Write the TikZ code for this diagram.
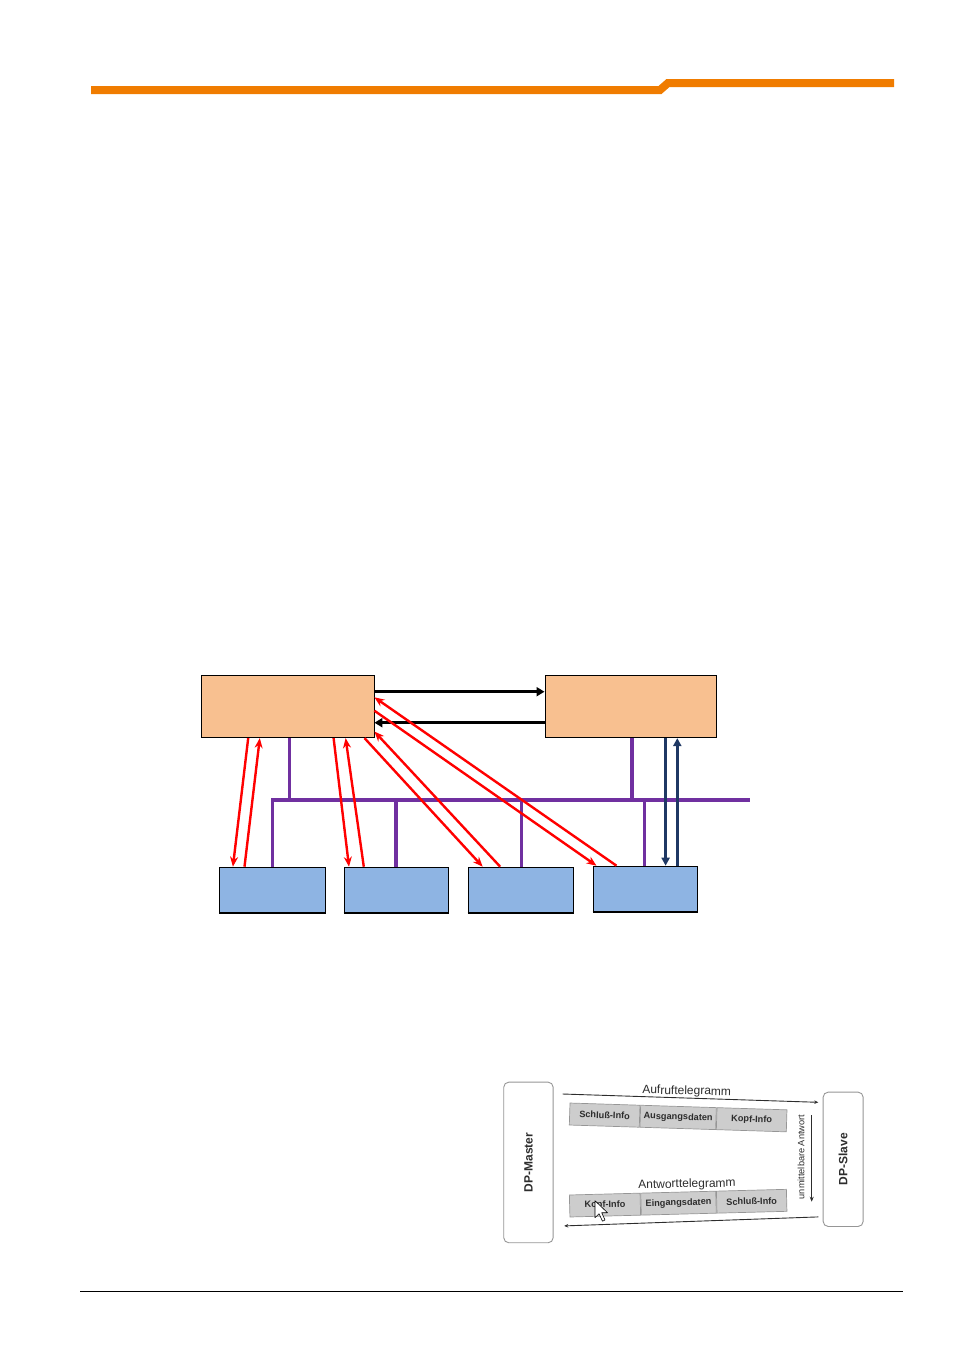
\documentclass[tikz,border=0pt]{standalone}
\usepackage{fontspec}
\setmainfont{Liberation Sans}
\usetikzlibrary{arrows.meta}
\definecolor{hdrorange}{RGB}{240,124,0}
\definecolor{peach}{RGB}{248,192,144}
\definecolor{slaveblue}{RGB}{142,180,227}
\definecolor{buspurple}{RGB}{112,48,160}
\definecolor{navyline}{RGB}{31,56,100}
\definecolor{cellgray}{RGB}{205,205,205}
\definecolor{cellborder}{RGB}{150,150,150}
\definecolor{txtgray}{RGB}{45,45,45}
\tikzset{
  masterbox/.style={draw=black, line width=0.8pt, fill=peach, inner sep=0pt, anchor=north west},
  slavebox/.style={draw=black, line width=1.1pt, fill=slaveblue, inner sep=0pt, anchor=north west, minimum height=45.6pt},
  redarr/.style={draw=red, line width=2.4pt, -{Stealth[length=10pt,width=8pt]}},
  blkarr/.style={draw=black, line width=3pt, -{Triangle[length=8pt,width=9pt]}},
  navyarr/.style={draw=navyline, line width=2.4pt, -{Triangle[length=8pt,width=8pt]}},
  bus/.style={draw=buspurple, line width=3.6pt},
  dpbox/.style={draw=cellborder, line width=0.9pt, rounded corners=5pt, fill=white, inner sep=0pt, anchor=north west},
  dptext/.style={font=\bfseries\fontsize{12}{14}\selectfont, text=txtgray, rotate=90},
  cell/.style={draw=cellborder, line width=0.7pt, fill=cellgray, inner sep=0pt, minimum height=22pt, anchor=west, font=\bfseries\fontsize{9.2}{11}\selectfont, text=txtgray},
  tlabel/.style={font=\fontsize{12}{14}\selectfont, text=txtgray, inner sep=0pt},
  thinarr/.style={draw=txtgray, line width=0.9pt, -{Stealth[length=4pt,width=3.5pt]}}
}
\begin{document}
\begin{tikzpicture}[x=1pt,y=-1pt]
\useasboundingbox (0,0) rectangle (955,1350);
% header
\draw[hdrorange, line width=8pt] (91,90) -- (660,90) -- (668,83) -- (894,83);
% footer
\draw[line width=1.2pt] (80,1291.5) -- (903,1291.5);

% top boxes
\node[masterbox, minimum width=172.6pt, minimum height=62.3pt] (m) at (201,675) {};
\node[masterbox, minimum width=171pt, minimum height=62.3pt] (s) at (544.5,675) {};
% bottom boxes
\node[slavebox, minimum width=105.5pt] (b1) at (219,866.7) {};
\node[slavebox, minimum width=104.7pt] (b2) at (343.5,866.7) {};
\node[slavebox, minimum width=105pt] (b3) at (467.5,866.7) {};
\node[slavebox, minimum width=104.8pt] (b4) at (592.5,865.7) {};
\foreach \b in {b1,b2,b3,b4} \draw[line width=2pt] (\b.south west) -- (\b.south east);

% bus
\coordinate (busR) at (750,800);
\draw[bus] ([xshift=53.5pt]b1.north west) |- (busR);
\draw[bus] ([xshift=88.3pt]m.south west) coordinate (mp) -- (mp |- busR);
\draw[bus] ([xshift=87.3pt]s.south west) coordinate (sp) -- (sp |- busR);
\draw[bus] ([xshift=52.5pt]b2.north west) coordinate (p2) -- (p2 |- busR);
\draw[bus] ([xshift=54.1pt]b3.north west) coordinate (p3) -- (p3 |- busR);
\draw[bus] ([xshift=52pt]b4.north west) coordinate (p4) -- (p4 |- busR);

% black arrows
\draw[blkarr] ([yshift=-16.7pt]m.north east) -- ([yshift=-16.7pt]s.north west);
\draw[blkarr] ([yshift=-47.7pt]s.north west) -- ([yshift=-47.7pt]m.north east);

% red arrows
\draw[redarr] ([xshift=47.2pt]m.south west) -- ([xshift=13.9pt]b1.north west);
\draw[redarr] ([xshift=25.5pt]b1.north west) -- ([xshift=58.8pt]m.south west);
\draw[redarr] ([xshift=132.6pt]m.south west) -- ([xshift=5.5pt]b2.north west);
\draw[redarr] ([xshift=20.3pt]b2.north west) -- ([xshift=144.6pt]m.south west);
\draw[redarr] ([xshift=163.5pt]m.south west) -- ([xshift=15.2pt]b3.north west);
\draw[redarr] ([xshift=32.7pt]b3.north west) -- ([yshift=6.6pt]m.south east);
\draw[redarr] ([yshift=-35.7pt]m.north east) -- ([xshift=4pt]b4.north west);
\draw[redarr] ([xshift=24pt]b4.north west) -- ([yshift=-22.3pt]m.north east);

% navy arrows
\draw[navyarr] ([xshift=121.1pt]s.south west) -- ([xshift=73.1pt]b4.north west);
\draw[navyarr] ([xshift=84.8pt]b4.north west) -- ([xshift=132.8pt]s.south west);

% DP master / slave picture
\node[dpbox, minimum width=49.4pt, minimum height=160.6pt] (dpm) at (503.3,1081.7) {};
\node[dptext] (dpmt) at (dpm.center) {DP-Master};
\node[dpbox, minimum width=40pt, minimum height=134.3pt] (dps) at (822.7,1091.7) {};
\node[dptext] (dpst) at (dps.center) {DP-Slave};

\node[tlabel, rotate=-1.2] (auf) at (686.7,1091.5) {Aufruftelegramm};
\draw[thinarr] ([shift={(9,12.3)}]dpm.north east) -- ([shift={(-4.4,10.6)}]dps.north west);

\node[cell, rotate=-1.8, minimum width=70pt] (c1) at (569.3,1114) {Schluß-Info};
\node[cell, rotate=-1.8, minimum width=75.7pt] (c2) at (c1.east) {Ausgangsdaten};
\node[cell, rotate=-1.8, minimum width=70pt] (c3) at (c2.east) {Kopf-Info};

\node[font=\fontsize{9.2}{11}\selectfont, text=txtgray, rotate=90, inner sep=0pt] (unm) at (801,1157) {unmittelbare Antwort};
\draw[draw=txtgray, line width=1.4pt, -{Stealth[length=5pt,width=4pt]}] ([shift={(-11,23.3)}]dps.north west) -- ([shift={(-11,110)}]dps.north west);

\node[tlabel, rotate=1.2] (ant) at (687,1184.5) {Antworttelegramm};
\node[cell, rotate=1.5, minimum width=70.7pt] (d1) at (569.3,1206) {Kopf-Info};
\node[cell, rotate=1.5, minimum width=75pt] (d2) at (d1.east) {Eingangsdaten};
\node[cell, rotate=1.5, minimum width=70pt] (d3) at (d2.east) {Schluß-Info};
\draw[thinarr] ([shift={(-4.4,-10)}]dps.south west) -- ([shift={(10.6,-17.3)}]dpm.south east);

% mouse cursor
\draw[fill=white, line width=0.6pt, line join=round] (595,1200.7) -- ++(0,17) -- ++(4,-4) -- ++(3.5,7.5) -- ++(2.5,-1.2) -- ++(-3.3,-7.3) -- ++(5.8,0) -- cycle;
\end{tikzpicture}
\end{document}
